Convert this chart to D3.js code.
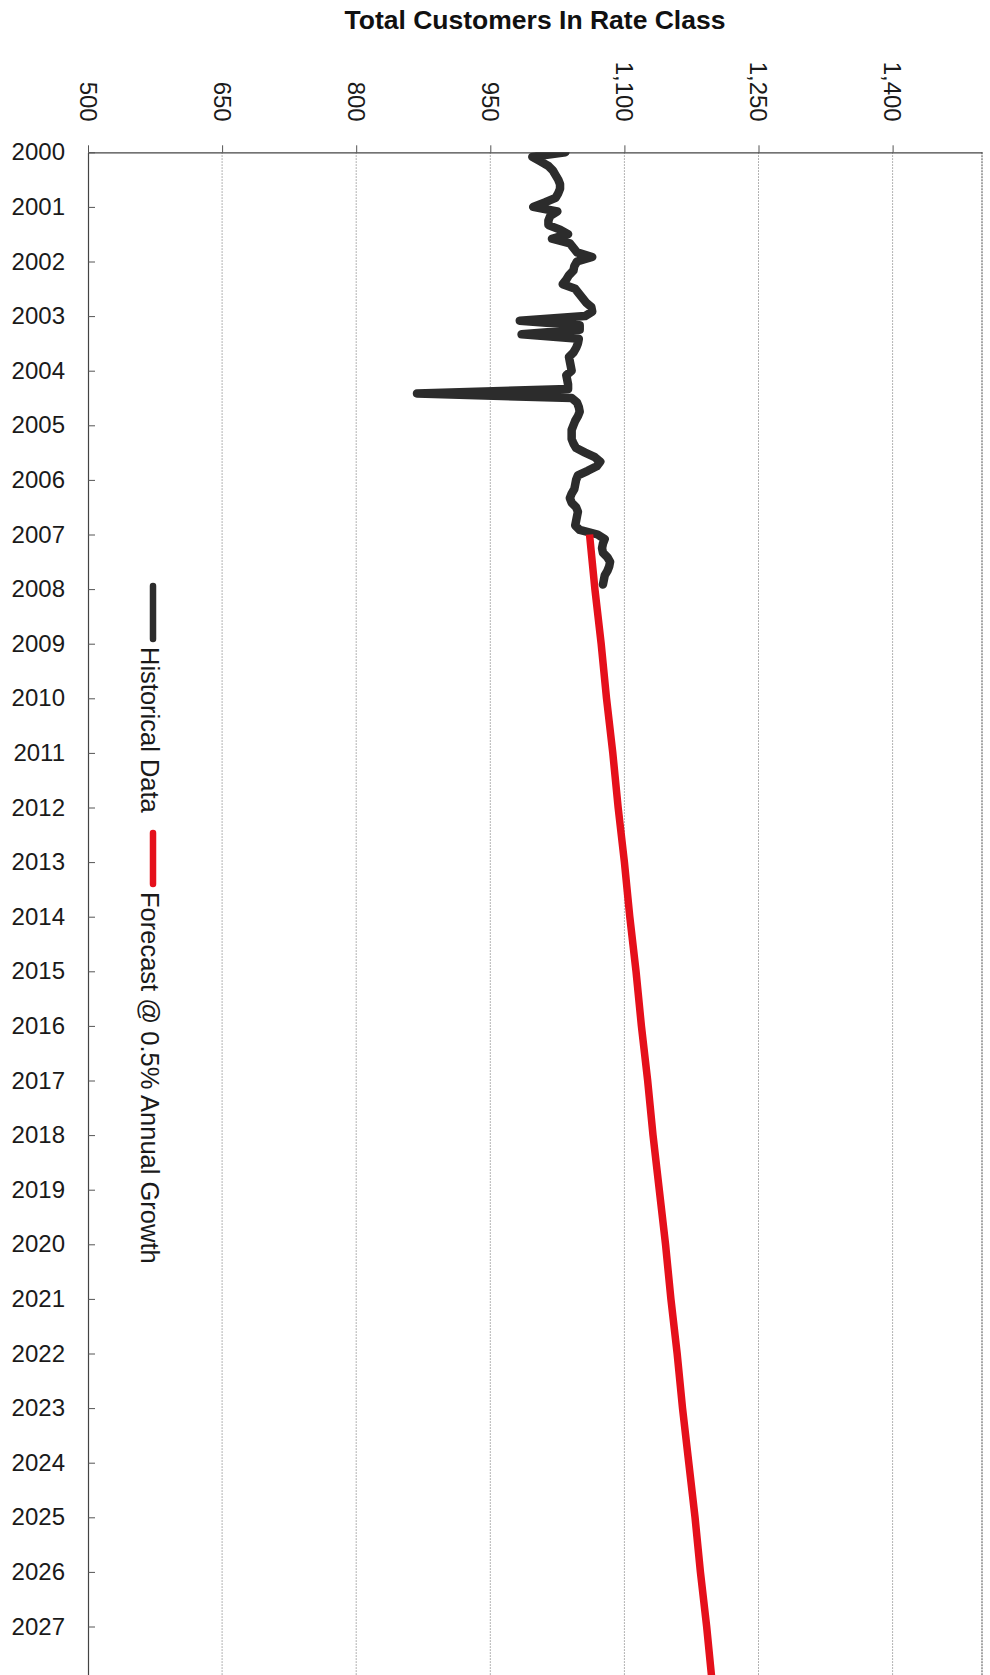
<!DOCTYPE html>
<html>
<head>
<meta charset="utf-8">
<script src="https://cdn.jsdelivr.net/npm/d3@7"></script>
<style>
  html, body { margin: 0; padding: 0; background: #fff; }
  svg { display: block; font-family: "Liberation Sans", Arial, sans-serif; }
</style>
</head>
<body>
<svg id="chart"></svg>
<script>
// chart size
const W = 990, H = 1675;
const margin = { left: 88, right: 8, top: 152.3 };
const yearPx = 54.6;

// data
const startYear = 2000;
// monthly customers, Jan 2000 .. Dec 2007
const historical = [
  1034, 997, 1006, 1015, 1020, 1023, 1026, 1028, 1028, 1026, 1023, 1011,
  998, 1025, 1017, 1015, 1015, 1028, 1037, 1019, 1039, 1043, 1047, 1064,
  1047, 1044, 1043, 1038, 1035, 1031, 1045, 1049, 1053, 1057, 1063, 1064,
  1056, 983, 1050, 1050, 985, 1049, 1048, 1046, 1043, 1038, 1039, 1040,
  1041, 1035, 1036, 1037, 1037, 868, 1041, 1047, 1049, 1050, 1048, 1045,
  1043, 1041, 1041, 1041, 1043, 1046, 1056, 1067, 1073, 1069, 1059, 1048,
  1046, 1045, 1044, 1041, 1039, 1041, 1046, 1048, 1047, 1046, 1045, 1050,
  1070, 1078, 1076, 1075, 1076, 1081, 1084, 1083, 1081, 1078, 1077, 1076
];
// yearly forecast values
const forecastYears = [2007, 2008, 2009, 2010, 2011, 2012, 2013, 2014, 2015, 2016, 2017, 2018,
  2019, 2020, 2021, 2022, 2023, 2024, 2025, 2026, 2027, 2028, 2029, 2030];
const forecast = [1061, 1067, 1074, 1080, 1087, 1093, 1100, 1106, 1113, 1119, 1126, 1132,
  1139, 1146, 1152, 1159, 1165, 1172, 1179, 1185, 1192, 1198, 1205, 1212];

const xTicks = [500, 650, 800, 950, 1100, 1250, 1400];
const yearTicks = d3.range(2000, 2028);
const seriesNames = ["Historical Data", "Forecast @ 0.5% Annual Growth"];
const title = "Total Customers In Rate Class";

const blackLine = "#2c2c2c";
const redLine = "#e5101b";

const svg = d3.select("#chart").attr("width", W).attr("height", H);

const x = d3.scaleLinear().domain([500, 1500]).range([margin.left, W - margin.right]);
const y = d3.scaleLinear().domain([2000, 2030]).range([margin.top, margin.top + 30 * yearPx]);
const plotBottom = y(2030);

// title
svg.append("text")
  .attr("x", 535)
  .attr("y", 28.5)
  .attr("text-anchor", "middle")
  .style("font-weight", "bold")
  .style("font-size", "26.5px")
  .attr("fill", "#111")
  .text(title);

// grid lines
svg.append("g")
  .selectAll("line")
  .data(xTicks.slice(1))
  .join("line")
  .attr("x1", d => x(d)).attr("x2", d => x(d))
  .attr("y1", margin.top).attr("y2", plotBottom)
  .attr("stroke", "#9a9a9a")
  .attr("stroke-width", 1)
  .attr("stroke-dasharray", "1.5,1.5");

// right border
svg.append("line")
  .attr("x1", x(1500)).attr("x2", x(1500))
  .attr("y1", margin.top).attr("y2", plotBottom)
  .attr("stroke", "#888")
  .attr("stroke-width", 1.5)
  .attr("stroke-dasharray", "2,1");

// x axis on top
const xAxis = svg.append("g")
  .attr("transform", `translate(0, ${margin.top})`)
  .call(d3.axisTop(x).tickValues(xTicks).tickSize(7).tickSizeOuter(0).tickFormat(d3.format(",")));
xAxis.select(".domain").attr("stroke", "#444").attr("stroke-width", 1.2);
xAxis.selectAll(".tick line").attr("stroke", "#555");
xAxis.selectAll(".tick text")
  .attr("y", null)
  .attr("dy", "0.36em")
  .attr("text-anchor", "end")
  .attr("transform", "translate(0,-30.6) rotate(90)")
  .style("font-size", "24px")
  .attr("fill", "#1a1a1a");

// year axis on the left
const yAxis = svg.append("g")
  .attr("transform", `translate(${margin.left}, 0)`)
  .call(d3.axisLeft(y).tickValues(yearTicks).tickSize(-7).tickSizeOuter(0).tickPadding(23).tickFormat(d3.format("d")));
yAxis.select(".domain").attr("stroke", "#444").attr("stroke-width", 1.2);
yAxis.selectAll(".tick line").attr("stroke", "#555");
yAxis.selectAll(".tick text")
  .style("font-size", "24px")
  .attr("fill", "#1a1a1a");

// clip to plot area
svg.append("clipPath").attr("id", "plot-clip")
  .append("rect")
  .attr("x", margin.left).attr("y", margin.top)
  .attr("width", x(1500) - margin.left).attr("height", plotBottom - margin.top);

const plot = svg.append("g").attr("clip-path", "url(#plot-clip)");

const histPoints = historical.map((v, i) => ({ t: startYear + i / 12, v: v }));
const fcPoints = forecast.map((v, i) => ({ t: forecastYears[i], v: v }));

const line = d3.line().x(d => x(d.v)).y(d => y(d.t));

plot.append("path")
  .datum(histPoints)
  .attr("d", line)
  .attr("fill", "none")
  .attr("stroke", blackLine)
  .attr("stroke-width", 8.5)
  .attr("stroke-linejoin", "round")
  .attr("stroke-linecap", "round");

plot.append("path")
  .datum(fcPoints)
  .attr("d", line)
  .attr("fill", "none")
  .attr("stroke", redLine)
  .attr("stroke-width", 7.5)
  .attr("stroke-linecap", "butt");

// legend (rotated, reading downwards)
const legend = [
  { name: seriesNames[0], color: blackLine, y0: 583, y1: 642, ty: 647 },
  { name: seriesNames[1], color: redLine, y0: 830, y1: 887, ty: 892 }
];
legend.forEach(l => {
  svg.append("line")
    .attr("x1", 153).attr("x2", 153)
    .attr("y1", l.y0 + 3).attr("y2", l.y1 - 3)
    .attr("stroke", l.color)
    .attr("stroke-width", 6.5)
    .attr("stroke-linecap", "round");
  svg.append("text")
    .attr("transform", `translate(141, ${l.ty}) rotate(90)`)
    .style("font-size", "25.5px")
    .attr("fill", "#1a1a1a")
    .text(l.name);
});
</script>
</body>
</html>
